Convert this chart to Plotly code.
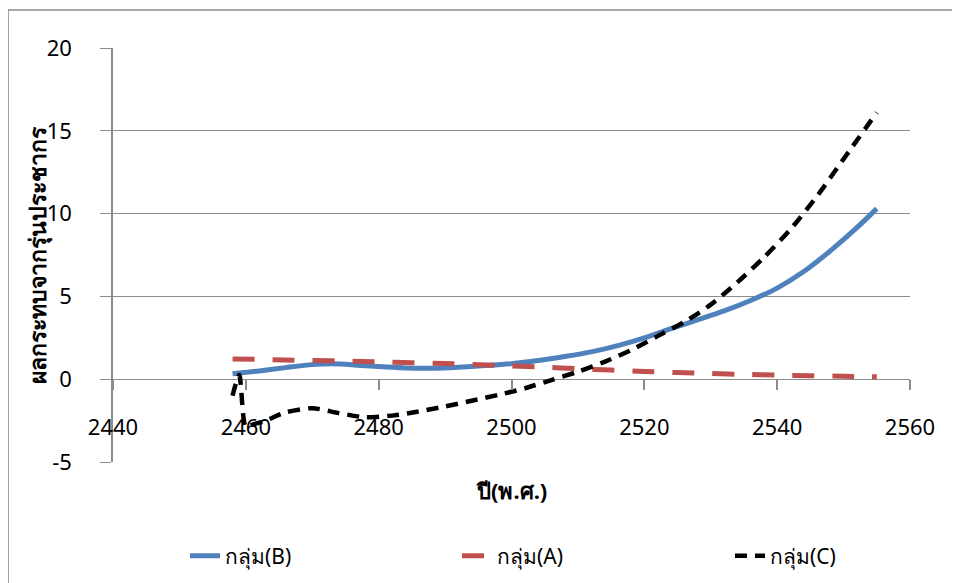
import plotly.graph_objects as go

# ---- data ----
years_b = [2458, 2462, 2466, 2470, 2473, 2476, 2480, 2484, 2488, 2492, 2496, 2500,
           2504, 2508, 2512, 2516, 2520, 2524, 2528, 2532, 2536, 2540, 2544, 2548, 2552, 2555]
group_b = [0.33, 0.5, 0.7, 0.88, 0.93, 0.88, 0.76, 0.68, 0.66, 0.72, 0.82, 0.94,
           1.13, 1.37, 1.65, 2.03, 2.5, 3.05, 3.58, 4.12, 4.75, 5.5, 6.5, 7.75, 9.15, 10.3]

years_a = [2458, 2462, 2466, 2470, 2475, 2480, 2485, 2490, 2495, 2500, 2505, 2510,
           2515, 2520, 2525, 2530, 2535, 2540, 2545, 2550, 2555]
group_a = [1.22, 1.2, 1.16, 1.13, 1.1, 1.05, 1.0, 0.95, 0.88, 0.8, 0.72, 0.63,
           0.55, 0.47, 0.4, 0.34, 0.29, 0.25, 0.21, 0.18, 0.15]

years_c = [2458, 2459, 2460, 2461, 2463, 2466, 2470, 2474, 2478, 2482, 2486, 2490,
           2494, 2498, 2502, 2506, 2510, 2514, 2518, 2522, 2526, 2530, 2534, 2538,
           2542, 2546, 2550, 2555]
group_c = [-1.0, 0.25, -2.9, -2.75, -2.5, -2.0, -1.75, -2.05, -2.3, -2.2, -1.95, -1.65,
           -1.3, -0.95, -0.55, -0.05, 0.45, 1.05, 1.75, 2.6, 3.45, 4.5, 5.85, 7.35,
           9.05, 11.05, 13.3, 16.1]

x_ticks = [2440, 2460, 2480, 2500, 2520, 2540, 2560]
y_ticks = [-5, 0, 5, 10, 15, 20]

x_title = "ปี(พ.ศ.)"
y_title = "ผลกระทบจากรุ่นประชากร"
names = ["กลุ่ม(B)", "กลุ่ม(A)", "กลุ่ม(C)"]

FONT = "Noto Sans, DejaVu Sans, sans-serif"
GRID = "#8c8c8c"

fig = go.Figure()
fig.add_trace(go.Scatter(x=years_b, y=group_b, name=names[0], mode="lines", legend="legend",
                         line=dict(color="#4F81BD", width=5, shape="spline", smoothing=0.7)))
fig.add_trace(go.Scatter(x=years_a, y=group_a, name=names[1], mode="lines", legend="legend2",
                         line=dict(color="#C0504D", width=5, dash="22px,18px",
                                   shape="spline", smoothing=0.7)))
fig.add_trace(go.Scatter(x=years_c, y=group_c, name=names[2], mode="lines", legend="legend3",
                         line=dict(color="#000000", width=4.5, dash="12px,8px",
                                   shape="spline", smoothing=0.7)))

W, H = 952, 575
L, R, T, B = 105, 50, 40, 121
PW = W - L - R


def leg(px):
    return dict(orientation="h", x=(px - L) / PW, xanchor="left", y=-0.227,
                yanchor="middle", font=dict(size=21), bgcolor="rgba(0,0,0,0)")


fig.update_layout(
    width=W, height=H,
    margin=dict(l=L, r=R, t=T, b=B, autoexpand=False),
    paper_bgcolor="white", plot_bgcolor="white",
    font=dict(family=FONT, size=21, color="#000000"),
    showlegend=True,
    legend=leg(177), legend2=leg(449), legend3=leg(722),
)

fig.update_xaxes(
    range=[2440, 2560], tickvals=x_ticks, ticktext=[str(v) for v in x_ticks],
    anchor="free", position=0.2, showgrid=False, zeroline=False,
    showline=False, ticks="outside", ticklen=10, tickwidth=1.5, tickcolor=GRID,
    ticklabelstandoff=18, tickfont=dict(size=22),
)
fig.update_yaxes(
    range=[-5, 20], tickvals=y_ticks, ticktext=[str(v) for v in y_ticks],
    showgrid=True, gridcolor=GRID, gridwidth=1.3,
    zeroline=False, showline=True, linecolor=GRID, linewidth=1.5,
    ticks="outside", ticklen=11, tickwidth=1.3, tickcolor=GRID,
    ticklabelstandoff=24, tickfont=dict(size=22),
)

fig.add_annotation(text="<b>" + x_title + "</b>", xref="paper", yref="paper",
                   x=0.5, y=-0.0676, showarrow=False, font=dict(size=22),
                   xanchor="center", yanchor="middle")
fig.add_annotation(text="<b>" + y_title + "</b>", xref="paper", yref="paper",
                   x=-0.0954, y=0.5, showarrow=False, textangle=-90, font=dict(size=23),
                   xanchor="center", yanchor="middle")

# outer chart border
fig.add_shape(type="rect", xref="paper", yref="paper",
              x0=-0.1317, y0=-0.6, x1=1.2, y1=1.0918,
              line=dict(color=GRID, width=1.5), layer="below")

fig.write_html("out.html")
